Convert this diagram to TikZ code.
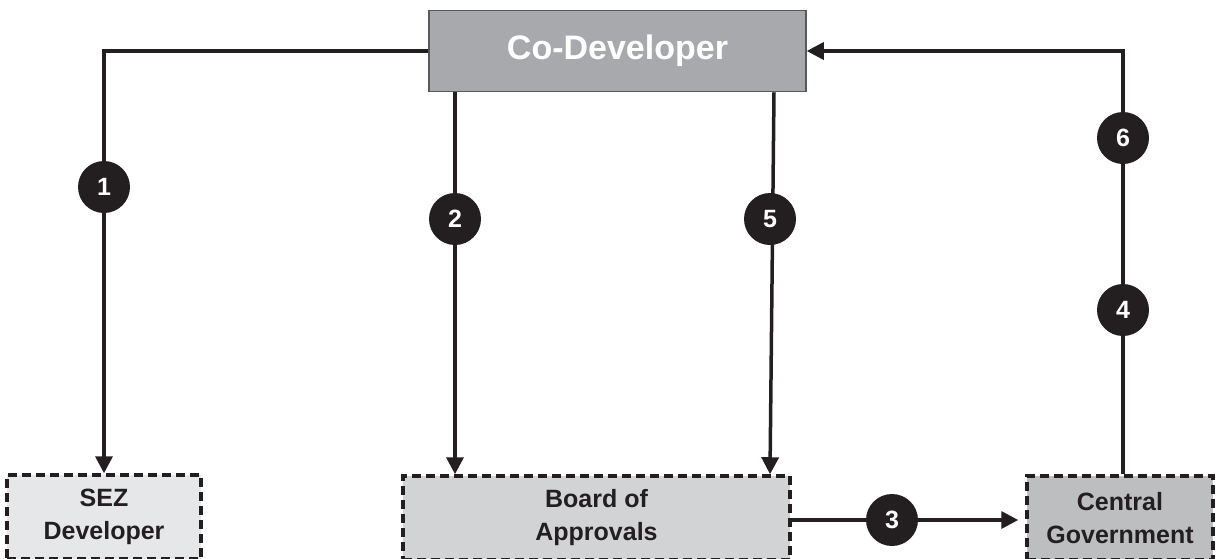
\documentclass[tikz,border=0pt]{standalone}
\usepackage{fontspec}
\setmainfont{Liberation Sans}
\usetikzlibrary{arrows.meta}
\definecolor{ink}{HTML}{231F20}
\definecolor{cofill}{HTML}{A7A9AC}
\definecolor{coedge}{HTML}{58595B}
\definecolor{sezfill}{HTML}{E6E7E8}
\definecolor{boardfill}{HTML}{D1D3D4}
\definecolor{govfill}{HTML}{BCBEC0}
\tikzset{
  mainbox/.style={draw=coedge, line width=1.5pt, fill=cofill, text=white,
    font=\fontsize{34}{40}\selectfont\bfseries, inner sep=0pt},
  partybox/.style={draw=ink, line width=3.5pt, dash pattern=on 9pt off 5pt,
    text=ink, align=center, inner sep=0pt,
    font=\fontsize{25}{33}\selectfont\bfseries},
  conn/.style={draw=ink, line width=3.5pt},
  flow/.style={conn, -{Triangle[length=17pt,width=17pt]}},
  stepno/.style={circle, fill=ink, minimum size=52pt, inner sep=0pt,
    text=white, font=\fontsize{25}{25}\selectfont\bfseries},
}
\begin{document}
\begin{tikzpicture}[x=1pt, y=-1pt]
\useasboundingbox (0,0) rectangle (1216,558);

% parties
\node[mainbox, minimum width=377pt, minimum height=81pt] (co) at (617.5,51) {Co-Developer};
\node[partybox, fill=sezfill, minimum width=194pt, minimum height=84pt] (sez) at (104,517) {SEZ\\Developer};
\node[partybox, fill=boardfill, minimum width=387pt, minimum height=84pt] (board) at (596.5,518) {Board of\\Approvals};
\node[partybox, fill=govfill, minimum width=186pt, minimum height=84pt] (gov) at (1120,518) {Central\\Government};

% step markers
\coordinate (p1) at (104,187);
\coordinate (p2) at (455,219);
\coordinate (p5) at (770,219);
\coordinate (p3) at (892,520);
\coordinate (p6) at (1123,138);
\coordinate (p4) at (1123,310);

% flows
\draw[flow] (co.west) -| (sez.north);
\draw[flow] (co.south -| p2) -- (board.north -| p2);
\draw[flow] ([xshift=156.5pt]co.south) -- ([xshift=173.5pt]board.north);
\draw[flow, shorten >=7pt] (board.east |- p3) -- (gov.west |- p3);
\draw[flow] (gov.north -| p4) |- (co.east);

\node[stepno] (n1) at (p1) {1};
\node[stepno] (n2) at (p2) {2};
\node[stepno] (n5) at (p5) {5};
\node[stepno] (n3) at (p3) {3};
\node[stepno] (n6) at (p6) {6};
\node[stepno] (n4) at (p4) {4};
\end{tikzpicture}
\end{document}
